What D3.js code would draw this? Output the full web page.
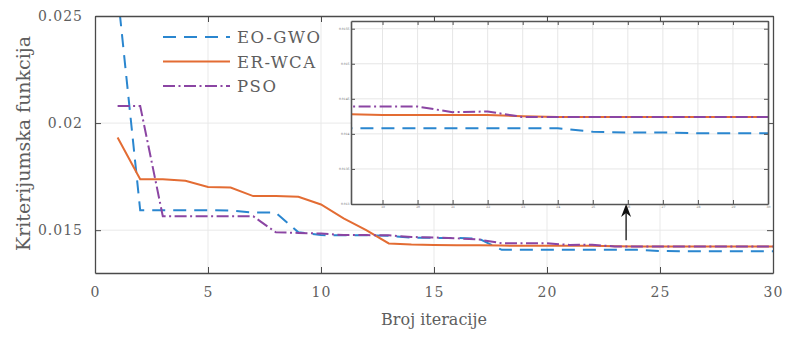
<!DOCTYPE html>
<html><head><meta charset="utf-8">
<script src="https://cdn.jsdelivr.net/npm/d3@7"></script>
<style>
html,body{margin:0;padding:0;background:#fff;}
svg text{font-family:"DejaVu Serif",serif;fill:#5e5e5e;}
</style></head>
<body><svg id="c" width="787" height="337"></svg>
<script>
// ---- data ----
const iterations = d3.range(1, 31);
const eoGwo = [0.0261,0.01593,0.01593,0.01593,0.01593,0.01592,0.01582,0.01582,0.01490,0.01477,
  0.01476,0.01476,0.01474,0.01465,0.01464,0.01464,0.01460,0.01408,0.01408,0.01408,
  0.01408,0.01408,0.01408,0.01408,0.01403,0.01402,0.01402,0.01401,0.01401,0.01401];
const erWca = [0.01933,0.01738,0.01738,0.01731,0.01702,0.01699,0.01659,0.01659,0.01656,0.01620,
  0.01555,0.01500,0.01438,0.01433,0.01431,0.01430,0.01429,0.01428,0.01427,0.01427,
  0.01427,0.01427,0.01425,0.01424,0.01424,0.01424,0.01424,0.01424,0.01424,0.01424];
const pso = [0.0208,0.0208,0.01565,0.01565,0.01565,0.01565,0.01565,0.01490,0.01487,0.01484,
  0.01477,0.01477,0.01476,0.01468,0.01466,0.01462,0.01456,0.01439,0.01439,0.01439,
  0.01431,0.01432,0.01424,0.01424,0.01424,0.01424,0.01424,0.01424,0.01424,0.01424];
const seriesNames = ["EO-GWO","ER-WCA","PSO"];
const xTicks = [0,5,10,15,20,25,30];
const yTicks = [0.015,0.02,0.025];
const xDomain = [0,30];
const yDomain = [0.013,0.025];
const insetXDomain = [18.1,30];
const insetYDomain = [0.013,0.01561];
const insetXTicks = d3.range(19,31);
const insetYTicks = [0.013,0.0135,0.014,0.0145,0.015,0.0155];
const arrowAt = {x:23.5, y:0.01453};
const xLabel = "Broj iteracije";
const yLabel = "Kriterijumska funkcija";

// ---- styles ----
const colors = ["#2a86cf","#e36c33","#8b45a3"];
const dashes = ["13,8", null, "12,3.5,2,3.5"];
const FONT = "DejaVu Serif, serif";

const svg = d3.select("#c");
const M = {l:95, r:773, t:16, b:273};
const x = d3.scaleLinear().domain(xDomain).range([M.l, M.r]);
const y = d3.scaleLinear().domain(yDomain).range([M.b, M.t]);
const series = [eoGwo, erWca, pso];

svg.append("clipPath").attr("id","clipMain").append("rect")
  .attr("x",M.l).attr("y",M.t).attr("width",M.r-M.l).attr("height",M.b-M.t);

// grid
const grid = svg.append("g").attr("stroke","#e9e9e9").attr("stroke-width",1);
xTicks.filter(t=>t>xDomain[0]&&t<xDomain[1]).forEach(t=>grid.append("line")
  .attr("x1",x(t)).attr("x2",x(t)).attr("y1",M.t).attr("y2",M.b));
yTicks.filter(t=>t>yDomain[0]&&t<yDomain[1]).forEach(t=>grid.append("line")
  .attr("x1",M.l).attr("x2",M.r).attr("y1",y(t)).attr("y2",y(t)));

// lines
const line = (xs, ys) => d3.line().x((d,i)=>xs(iterations[i])).y(d=>ys(d));
const gLines = svg.append("g").attr("clip-path","url(#clipMain)");
series.forEach((s,k)=>{
  gLines.append("path").attr("d", line(x,y)(s)).attr("fill","none")
    .attr("stroke",colors[k]).attr("stroke-width",2)
    .attr("stroke-dasharray",dashes[k]);
});

// axes (box style, ticks inward)
const axisCol = "#4a4a4a";
const axB = svg.append("g").attr("transform",`translate(0,${M.b})`)
  .call(d3.axisBottom(x).tickValues(xTicks).tickSizeInner(-6).tickSizeOuter(0).tickPadding(14).tickFormat(d3.format("d")));
const axT = svg.append("g").attr("transform",`translate(0,${M.t})`)
  .call(d3.axisTop(x).tickValues(xTicks).tickSizeInner(-6).tickSizeOuter(0).tickFormat(""));
const axL = svg.append("g").attr("transform",`translate(${M.l},0)`)
  .call(d3.axisLeft(y).tickValues(yTicks).tickSizeInner(-6).tickSizeOuter(0).tickPadding(12).tickFormat(d=>String(+d.toFixed(4))));
const axR = svg.append("g").attr("transform",`translate(${M.r},0)`)
  .call(d3.axisRight(y).tickValues(yTicks).tickSizeInner(-6).tickSizeOuter(0).tickFormat(""));
[axB,axT,axL,axR].forEach(a=>{
  a.attr("font-family",FONT);
  a.select(".domain").attr("stroke",axisCol).attr("stroke-width",1.3);
  a.selectAll(".tick line").attr("stroke",axisCol).attr("stroke-width",1);
  a.selectAll("text").attr("font-size",14).attr("letter-spacing",1).attr("fill","#5e5e5e")
    .attr("font-family",FONT);
});
axB.selectAll("text").attr("dy","0.71em");

// labels
svg.append("text").attr("x",(M.l+M.r)/2).attr("y",325).attr("text-anchor","middle")
  .attr("font-size",16).text(xLabel);
svg.append("text").attr("transform",`translate(30,${(M.t+M.b)/2 - 1}) rotate(-90)`)
  .attr("text-anchor","middle").attr("font-size",19).text(yLabel);

// legend
const leg = svg.append("g");
seriesNames.forEach((n,k)=>{
  const ly = 37 + k*24.5;
  leg.append("line").attr("x1",163).attr("x2",230).attr("y1",ly).attr("y2",ly)
    .attr("stroke",colors[k]).attr("stroke-width",2).attr("stroke-dasharray",dashes[k]);
  leg.append("text").attr("x",237).attr("y",ly+6).attr("font-size",16.5)
    .attr("letter-spacing",1.5).text(n);
});

// inset
const I = {l:351, r:768, t:21, b:204};
const xi = d3.scaleLinear().domain(insetXDomain).range([I.l, I.r]);
const yi = d3.scaleLinear().domain(insetYDomain).range([I.b, I.t]);
svg.append("clipPath").attr("id","clipInset").append("rect")
  .attr("x",I.l).attr("y",I.t).attr("width",I.r-I.l).attr("height",I.b-I.t);
const gi = svg.append("g");
gi.append("rect").attr("x",I.l).attr("y",I.t).attr("width",I.r-I.l).attr("height",I.b-I.t).attr("fill","#fff");
const gig = gi.append("g").attr("stroke","#e6e6e6").attr("stroke-width",1);
insetXTicks.filter(t=>t<insetXDomain[1]).forEach(t=>gig.append("line")
  .attr("x1",xi(t)).attr("x2",xi(t)).attr("y1",I.t).attr("y2",I.b));
insetYTicks.filter(t=>t>insetYDomain[0]).forEach(t=>gig.append("line")
  .attr("x1",I.l).attr("x2",I.r).attr("y1",yi(t)).attr("y2",yi(t)));
const gil = gi.append("g").attr("clip-path","url(#clipInset)");
series.forEach((s,k)=>{
  gil.append("path").attr("d", line(xi,yi)(s)).attr("fill","none")
    .attr("stroke",colors[k]).attr("stroke-width",2)
    .attr("stroke-dasharray",dashes[k]);
});
const iB = gi.append("g").attr("transform",`translate(0,${I.b})`)
  .call(d3.axisBottom(xi).tickValues(insetXTicks).tickSizeInner(-4).tickSizeOuter(0).tickPadding(2));
const iT = gi.append("g").attr("transform",`translate(0,${I.t})`)
  .call(d3.axisTop(xi).tickValues(insetXTicks).tickSizeInner(-4).tickSizeOuter(0).tickFormat(""));
const iL = gi.append("g").attr("transform",`translate(${I.l},0)`)
  .call(d3.axisLeft(yi).tickValues(insetYTicks).tickSizeInner(-4).tickSizeOuter(0).tickPadding(1.5).tickFormat(d=>String(+d.toFixed(4))));
const iR = gi.append("g").attr("transform",`translate(${I.r},0)`)
  .call(d3.axisRight(yi).tickValues(insetYTicks).tickSizeInner(-4).tickSizeOuter(0).tickFormat(""));
[iB,iT,iL,iR].forEach(a=>{
  a.select(".domain").attr("stroke","#555").attr("stroke-width",1.6);
  a.selectAll(".tick line").attr("stroke","#555").attr("stroke-width",1);
  a.selectAll("text").attr("font-size",3).attr("fill","#aaa");
});

// arrow
const ax = x(arrowAt.x), ay = y(arrowAt.y);
svg.append("line").attr("x1",ax).attr("x2",ax).attr("y1",ay).attr("y2",I.b+8)
  .attr("stroke","#111").attr("stroke-width",1.3);
svg.append("path").attr("d",`M${ax},${I.b} L${ax-5},${I.b+13} L${ax},${I.b+9} L${ax+5},${I.b+13} Z`)
  .attr("fill","#111");
</script></body></html>
